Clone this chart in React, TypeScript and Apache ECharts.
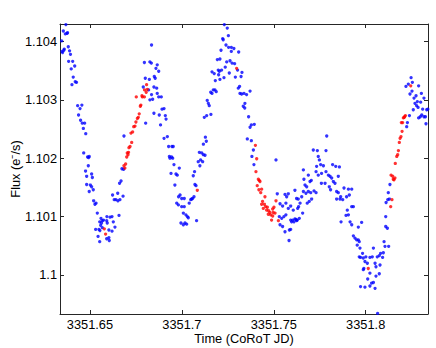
import React, { useEffect, useRef } from "react";
import * as echarts from "echarts";

const xTicks = [3351.65, 3351.7, 3351.75, 3351.8];
const yTicks = [1.1, 1.101, 1.102, 1.103, 1.104];
const xRange = [3351.6337, 3351.8339];
const yRange = [1.09933, 1.1043];
const xTitle = "Time (CoRoT JD)";
const yTitle = "Flux (e\u207B/s)";

const bluePoints: [number, number][] = [
  [3351.6346,1.10401],[3351.6348,1.10383],[3351.6351,1.10381],[3351.6355,1.10418],[3351.6358,1.10385],[3351.6360,1.10387],[3351.6366,1.10413],[3351.6369,1.10429],[3351.6375,1.10414],[3351.6378,1.10415],[3351.6382,1.10391],[3351.6384,1.10366],[3351.6389,1.10384],[3351.6394,1.10378],[3351.6398,1.10353],[3351.6402,1.10326],[3351.6406,1.10366],[3351.6409,1.10339],[3351.6417,1.10358],[3351.6420,1.10331],[3351.6427,1.10330],[3351.6433,1.10290],[3351.6438,1.10274],[3351.6446,1.10285],[3351.6449,1.10265],[3351.6456,1.10291],[3351.6458,1.10260],[3351.6464,1.10251],[3351.6466,1.10209],[3351.6471,1.10260],[3351.6477,1.10242],[3351.6493,1.10201],
  [3351.6487,1.10202],[3351.6496,1.10203],[3351.6491,1.10187],[3351.6476,1.10178],[3351.6509,1.10173],[3351.6482,1.10169],[3351.6513,1.10167],[3351.6482,1.10155],[3351.6502,1.10154],[3351.6509,1.10151],[3351.6496,1.10143],[3351.6518,1.10146],[3351.6520,1.10127],[3351.6533,1.10123],[3351.6527,1.10121],[3351.6540,1.10106],[3351.6560,1.10097],[3351.6567,1.10093],[3351.6574,1.10094],[3351.6553,1.10091],[3351.6563,1.10089],[3351.6558,1.10085],[3351.6592,1.10100],[3351.6609,1.10099],[3351.6591,1.10093],[3351.6594,1.10089],[3351.6627,1.10091],[3351.6620,1.10100],[3351.6531,1.10078],[3351.6549,1.10078],[3351.6554,1.10076],[3351.6567,1.10081],[3351.6603,1.10077],[3351.6620,1.10075],[3351.6636,1.10082],[3351.6544,1.10066],[3351.6591,1.10062],[3351.6603,1.10064],[3351.6553,1.10057],[3351.6605,1.10059],[3351.6658,1.10102],[3351.6663,1.10129],[3351.6652,1.10127],[3351.6641,1.10129],[3351.6651,1.10140],[3351.6623,1.10137],[3351.6632,1.10129],[3351.6680,1.10135],[3351.6661,1.10157],[3351.6669,1.10161],[3351.6674,1.10182],[3351.6683,1.10181],[3351.6685,1.10238],
  [3351.6790,1.10322],[3351.6801,1.10337],[3351.6826,1.10365],[3351.6834,1.10363],[3351.6835,1.10394],[3351.6823,1.10335],[3351.6819,1.10317],[3351.6803,1.10260],[3351.6826,1.10300],[3351.6835,1.10309],[3351.6841,1.10301],[3351.6848,1.10322],[3351.6855,1.10337],[3351.6859,1.10354],[3351.6866,1.10360],[3351.6874,1.10349],[3351.6863,1.10320],[3351.6866,1.10311],[3351.6874,1.10305],[3351.6888,1.10305],[3351.6892,1.10284],[3351.6903,1.10285],[3351.6877,1.10274],[3351.6884,1.10257],[3351.6910,1.10273],[3351.6914,1.10267],[3351.6903,1.10234],[3351.6921,1.10237],[3351.6928,1.10220],[3351.6932,1.10203],[3351.6946,1.10220],[3351.6953,1.10220],[3351.6935,1.10200],[3351.6950,1.10200],[3351.6850,1.10340],[3351.6848,1.10277],[3351.6796,1.10364],
  [3351.6944,1.10202],[3351.6957,1.10189],[3351.6941,1.10174],[3351.6968,1.10173],[3351.6975,1.10171],[3351.6986,1.10183],[3351.6962,1.10154],[3351.6990,1.10137],[3351.6982,1.10134],[3351.6999,1.10131],[3351.7013,1.10131],[3351.6972,1.10123],[3351.6981,1.10120],[3351.6999,1.10117],[3351.7013,1.10117],[3351.7008,1.10106],[3351.7022,1.10103],[3351.7030,1.10100],[3351.7035,1.10098],[3351.7017,1.10089],[3351.6995,1.10089],[3351.7008,1.10086],[3351.7026,1.10087],[3351.7040,1.10123],[3351.7048,1.10129],[3351.7053,1.10130],[3351.7058,1.10131],[3351.7066,1.10134],[3351.7071,1.10155],[3351.7077,1.10153],[3351.7062,1.10170],[3351.7069,1.10177],[3351.7080,1.10093],[3351.7095,1.10210],[3351.7108,1.10209],[3351.7117,1.10206],[3351.7126,1.10205],[3351.7089,1.10194],[3351.7098,1.10187],[3351.7102,1.10197],[3351.7113,1.10194],
  [3351.7231,1.10429],[3351.7247,1.10423],[3351.7253,1.10410],[3351.7222,1.10405],[3351.7225,1.10403],[3351.7240,1.10394],[3351.7254,1.10390],[3351.7269,1.10390],[3351.7283,1.10388],[3351.7213,1.10385],[3351.7269,1.10383],[3351.7309,1.10382],[3351.7193,1.10369],[3351.7207,1.10370],[3351.7262,1.10367],[3351.7273,1.10363],[3351.7287,1.10362],[3351.7244,1.10365],[3351.7236,1.10356],[3351.7164,1.10348],[3351.7176,1.10345],[3351.7198,1.10351],[3351.7204,1.10349],[3351.7216,1.10351],[3351.7303,1.10351],[3351.7327,1.10347],[3351.7258,1.10346],[3351.7291,1.10339],[3351.7322,1.10340],[3351.7200,1.10343],[3351.7229,1.10338],[3351.7207,1.10335],[3351.7182,1.10333],[3351.7314,1.10323],[3351.7307,1.10320],[3351.7171,1.10317],[3351.7180,1.10317],[3351.7187,1.10314],[3351.7157,1.10313],[3351.7164,1.10311],[3351.7371,1.10315],[3351.7316,1.10311],[3351.7325,1.10310],[3351.7338,1.10311],[3351.7352,1.10309],[3351.7138,1.10299],[3351.7144,1.10294],[3351.7149,1.10290],[3351.7343,1.10294],[3351.7334,1.10289],[3351.7342,1.10286],[3351.7122,1.10270],[3351.7135,1.10273],[3351.7158,1.10275],[3351.7363,1.10271],[3351.7378,1.10257],[3351.7394,1.10258],[3351.7371,1.10253],[3351.7128,1.10236],[3351.7133,1.10229],[3351.7117,1.10224],[3351.7356,1.10233],[3351.7378,1.10230],[3351.7389,1.10214],[3351.7381,1.10203],[3351.7512,1.10197],
  [3351.7392,1.10189],[3351.7519,1.10139],[3351.7561,1.10138],[3351.7579,1.10139],[3351.7570,1.10134],[3351.7534,1.10122],[3351.7548,1.10118],[3351.7566,1.10123],[3351.7579,1.10114],[3351.7592,1.10118],[3351.7530,1.10100],[3351.7543,1.10097],[3351.7555,1.10100],[3351.7566,1.10103],[3351.7534,1.10086],[3351.7548,1.10083],[3351.7561,1.10074],[3351.7585,1.10077],[3351.7592,1.10094],[3351.7603,1.10094],[3351.7615,1.10096],[3351.7624,1.10093],[3351.7615,1.10145],[3351.7606,1.10111],[3351.7630,1.10114],[3351.7635,1.10117],[3351.7583,1.10059],
  [3351.7592,1.10078],[3351.7597,1.10091],[3351.7610,1.10091],[3351.7621,1.10095],[3351.7628,1.10094],[3351.7639,1.10097],[3351.7657,1.10106],[3351.7624,1.10131],[3351.7633,1.10130],[3351.7643,1.10123],[3351.7652,1.10134],[3351.7661,1.10143],[3351.7675,1.10140],[3351.7682,1.10123],[3351.7693,1.10126],[3351.7706,1.10130],[3351.7688,1.10143],[3351.7701,1.10141],[3351.7719,1.10144],[3351.7730,1.10141],[3351.7670,1.10154],[3351.7679,1.10151],[3351.7697,1.10160],[3351.7704,1.10162],[3351.7664,1.10164],[3351.7661,1.10180],[3351.7688,1.10171],[3351.7737,1.10213],[3351.7715,1.10214],[3351.7742,1.10203],[3351.7748,1.10197],[3351.7733,1.10186],[3351.7755,1.10189],[3351.7730,1.10177],[3351.7742,1.10171],[3351.7760,1.10174],[3351.7770,1.10187],[3351.7759,1.10157],[3351.7779,1.10157],[3351.7784,1.10177],[3351.7788,1.10238],[3351.7784,1.10213],
  [3351.7797,1.10171],[3351.7806,1.10169],[3351.7815,1.10166],[3351.7824,1.10160],[3351.7833,1.10157],[3351.7802,1.10151],[3351.7809,1.10146],[3351.7820,1.10189],[3351.7837,1.10186],[3351.7857,1.10185],[3351.7851,1.10169],[3351.7842,1.10143],[3351.7851,1.10141],[3351.7842,1.10130],[3351.7860,1.10130],[3351.7864,1.10134],[3351.7875,1.10129],[3351.7882,1.10149],[3351.7906,1.10147],[3351.7924,1.10147],[3351.7911,1.10137],[3351.7896,1.10134],[3351.7924,1.10117],[3351.7933,1.10117],[3351.7900,1.10111],[3351.7906,1.10103],[3351.7893,1.10102],[3351.7866,1.10091],[3351.7915,1.10091],[3351.7924,1.10086],[3351.7960,1.10082],[3351.7978,1.10090],[3351.7933,1.10067],[3351.7942,1.10063],[3351.7951,1.10060],[3351.7960,1.10060],[3351.7965,1.10057],[3351.7954,1.10051],[3351.7969,1.10046],[3351.7983,1.10037],[3351.7972,1.10030],[3351.7987,1.10029],[3351.7965,1.10031],[3351.8001,1.10031],[3351.7996,1.10023],[3351.8009,1.10020],[3351.7990,1.10011],[3351.7987,1.10009],[3351.8023,1.10030],[3351.8042,1.10046],[3351.8036,1.10031],[3351.8051,1.10020],[3351.8056,1.10014],[3351.8063,1.10031],[3351.8074,1.10033],[3351.8078,1.10017],[3351.8092,1.10030],[3351.8081,1.10037],[3351.8023,1.10003],[3351.8011,1.09993],[3351.8032,1.09986],[3351.8056,1.09998],[3351.8074,1.10002],[3351.7972,1.09980],[3351.7996,1.09979],[3351.8023,1.09981],[3351.8042,1.09987],[3351.8051,1.09977],[3351.8065,1.09934],[3351.8096,1.10038],[3351.8105,1.10049],[3351.8100,1.10057],[3351.8109,1.10083],[3351.8118,1.10080],[3351.8125,1.10049],[3351.8109,1.10100],[3351.8111,1.10124],[3351.8120,1.10129],[3351.8129,1.10130],[3351.8123,1.10141],[3351.8132,1.10155],
  [3351.8227,1.10261],[3351.8223,1.10254],[3351.8238,1.10273],[3351.8219,1.10323],[3351.8232,1.10327],[3351.8241,1.10310],[3351.8247,1.10338],[3351.8254,1.10330],[3351.8252,1.10315],[3351.8263,1.10303],[3351.8274,1.10307],[3351.8268,1.10294],[3351.8277,1.10290],[3351.8285,1.10287],[3351.8281,1.10297],[3351.8259,1.10283],[3351.8288,1.10324],[3351.8303,1.10311],[3351.8317,1.10303],[3351.8299,1.10296],[3351.8310,1.10284],[3351.8288,1.10269],[3351.8297,1.10271],[3351.8305,1.10274],[3351.8317,1.10271],[3351.8325,1.10271],[3351.8332,1.10283],[3351.8338,1.10284],[3351.8328,1.10259]
];

const redPoints: [number, number][] = [
  [3351.6578,1.10079],[3351.6585,1.10070],[3351.6685,1.10187],[3351.6694,1.10190],[3351.6690,1.10183],[3351.6700,1.10202],[3351.6707,1.10206],[3351.6710,1.10210],
  [3351.6703,1.10209],[3351.6712,1.10218],[3351.6718,1.10220],[3351.6727,1.10227],[3351.6723,1.10243],[3351.6732,1.10245],[3351.6738,1.10254],[3351.6745,1.10255],[3351.6750,1.10262],[3351.6758,1.10268],[3351.6763,1.10270],[3351.6768,1.10276],[3351.6774,1.10289],[3351.6777,1.10291],[3351.6785,1.10305],[3351.6796,1.10305],[3351.6806,1.10313],[3351.6812,1.10318],[3351.6752,1.10305],[3351.6783,1.10307],[3351.6797,1.10317],[3351.6808,1.10326],
  [3351.7084,1.10145],
  [3351.7298,1.10354],[3351.7400,1.10222],[3351.7407,1.10199],
  [3351.7403,1.10177],[3351.7416,1.10164],[3351.7421,1.10162],[3351.7425,1.10160],[3351.7410,1.10153],[3351.7419,1.10146],[3351.7434,1.10147],[3351.7429,1.10141],[3351.7452,1.10134],[3351.7439,1.10126],[3351.7434,1.10121],[3351.7449,1.10121],[3351.7456,1.10117],[3351.7465,1.10116],[3351.7443,1.10114],[3351.7461,1.10111],[3351.7472,1.10110],[3351.7479,1.10107],[3351.7470,1.10104],[3351.7483,1.10103],[3351.7494,1.10113],[3351.7501,1.10116],[3351.7512,1.10127],[3351.7497,1.10107],[3351.7507,1.10106],[3351.7494,1.10101],[3351.7488,1.10094],[3351.7525,1.10093],
  [3351.8014,1.10011],[3351.8136,1.10117],[3351.8143,1.10129],[3351.8138,1.10171],[3351.8150,1.10164],[3351.8154,1.10163],[3351.8159,1.10166],[3351.8147,1.10169],[3351.8161,1.10191],[3351.8169,1.10203],[3351.8174,1.10206],[3351.8178,1.10213],
  [3351.8183,1.10227],[3351.8187,1.10234],[3351.8192,1.10237],[3351.8198,1.10246],[3351.8194,1.10261],[3351.8201,1.10261],[3351.8205,1.10269],[3351.8212,1.10271],[3351.8216,1.10273],[3351.8209,1.10270],[3351.8245,1.10324]
];

export default function App() {
  const ref = useRef<HTMLDivElement>(null);
  useEffect(() => {
    if (!ref.current) return;
    const chart = echarts.init(ref.current, null, { renderer: "svg" });
    const font = "'Liberation Sans', Arial, Helvetica, sans-serif";
    const axisColor = "#262626";
    const lineStyle = { color: axisColor, width: 1 };
    const labelStyle = { color: "#000", fontSize: 12.8, fontFamily: font, lineHeight: 13 };
    const fmt = (v: number) => String(v);
    chart.setOption({
      animation: false,
      backgroundColor: "#fff",
      grid: { left: 60, top: 24, right: 8, bottom: 34, containLabel: false, outerBoundsMode: "none" },
      xAxis: [
        {
          type: "value", position: "bottom", min: xRange[0], max: xRange[1],
          axisLine: { show: true, onZero: false, lineStyle },
          axisTick: { show: true, inside: true, length: 4, lineStyle, customValues: xTicks },
          axisLabel: { ...labelStyle, margin: 4, customValues: xTicks, formatter: fmt },
          splitLine: { show: false },
          name: xTitle, nameLocation: "middle", nameGap: 18, nameMoveOverlap: false,
          nameTextStyle: { ...labelStyle },
        },
        {
          type: "value", position: "top", min: xRange[0], max: xRange[1],
          axisLine: { show: true, onZero: false, lineStyle },
          axisTick: { show: true, inside: true, length: 4, lineStyle, customValues: xTicks },
          axisLabel: { show: false, customValues: xTicks },
          splitLine: { show: false },
        },
      ],
      yAxis: [
        {
          type: "value", position: "left", min: yRange[0], max: yRange[1],
          axisLine: { show: true, onZero: false, lineStyle },
          axisTick: { show: true, inside: true, length: 4, lineStyle, customValues: yTicks },
          axisLabel: { ...labelStyle, margin: 3, customValues: yTicks, formatter: fmt },
          splitLine: { show: false },
          name: yTitle, nameLocation: "middle", nameGap: 38, nameRotate: 90, nameMoveOverlap: false,
          nameTextStyle: { ...labelStyle },
        },
        {
          type: "value", position: "right", min: yRange[0], max: yRange[1],
          axisLine: { show: true, onZero: false, lineStyle },
          axisTick: { show: true, inside: true, length: 4, lineStyle, customValues: yTicks },
          axisLabel: { show: false, customValues: yTicks },
          splitLine: { show: false },
        },
      ],
      series: [
        {
          type: "scatter", xAxisIndex: 0, yAxisIndex: 0, data: bluePoints,
          symbol: "circle", symbolSize: 3.3, itemStyle: { color: "#0000ff" }, silent: true,
        },
        {
          type: "scatter", xAxisIndex: 0, yAxisIndex: 0, data: redPoints,
          symbol: "circle", symbolSize: 3.3, itemStyle: { color: "#ff0000" }, silent: true,
        },
      ],
    });
    return () => chart.dispose();
  }, []);
  return (
    <div
      ref={ref}
      style={{ position: "fixed", left: 0, top: 0, width: 436, height: 348, background: "#fff" }}
    />
  );
}
